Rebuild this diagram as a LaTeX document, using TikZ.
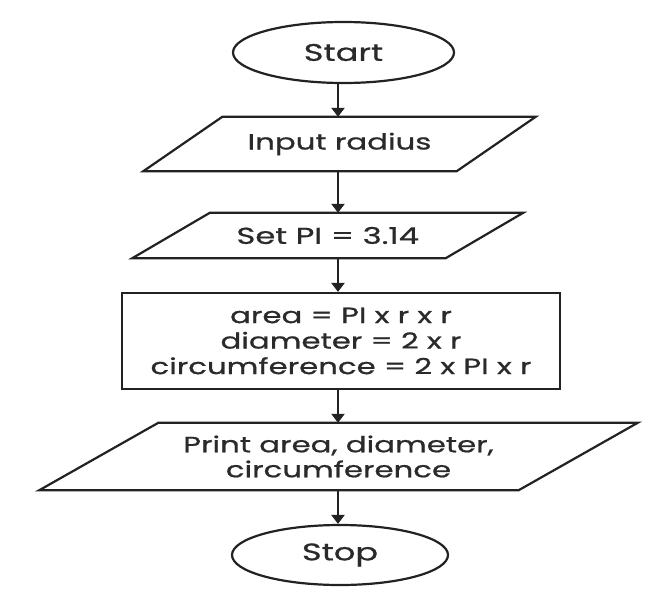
\documentclass[tikz,border=0pt]{standalone}
\usepackage{fontspec}
\setmainfont[FakeStretch=1.4,FakeBold=0.8]{Poppins}
\usetikzlibrary{arrows.meta,calc,shapes.geometric}
\definecolor{ink}{HTML}{222222}
\definecolor{txt}{HTML}{2a2a2a}
\begin{document}
\begin{tikzpicture}[x=1pt,y=-1pt,
  outline/.style={draw=ink, line width=2.2pt},
  term/.style={ellipse, outline, inner sep=0pt, text=txt, font=\fontsize{24}{26}\selectfont},
  io/.style={rectangle, inner sep=0pt, text=txt, align=center, font=\fontsize{22}{25}\selectfont},
  proc/.style={rectangle, outline, inner sep=0pt, text=txt, align=center, font=\fontsize{22}{25.5}\selectfont},
  arr/.style={draw=ink, line width=2.6pt, -{Triangle[length=9pt,width=13pt]}}]
\useasboundingbox (0,0) rectangle (669,602);
\fill[white] (0,0) rectangle (669,602);
\coordinate (ax) at (338,0);
% Start
\node[term, minimum width=221pt, minimum height=61pt] (start) at (343.5,52.5) {Start};
% Input radius
\node[io, minimum width=313pt, minimum height=54pt] (in) at (339.5,144) {Input radius};
\draw[outline] ($(in.north west)+(39.5,0)$) -- ($(in.north east)+(39.5,0)$) -- ($(in.south east)-(39.5,0)$) -- ($(in.south west)-(39.5,0)$) -- cycle;
% Set PI
\node[io, minimum width=313pt, minimum height=45pt, font=\fontsize{23}{25}\selectfont] (set) at (327.75,235.5) {Set PI = 3.14};
\draw[outline] ($(set.north west)+(38.75,0)$) -- ($(set.north east)+(38.75,0)$) -- ($(set.south east)-(38.75,0)$) -- ($(set.south west)-(38.75,0)$) -- cycle;
% Process
\node[proc, minimum width=438pt, minimum height=96pt] (calc) at (341,341) {area = PI x r x r\\diameter = 2 x r\\circumference = 2 x PI x r};
% Print
\node[io, minimum width=479pt, minimum height=67pt] (out) at (338.5,456.5) {Print area, diameter,\\circumference};
\draw[outline] ($(out.north west)+(59.5,0)$) -- ($(out.north east)+(59.5,0)$) -- ($(out.south east)-(59.5,0)$) -- ($(out.south west)-(59.5,0)$) -- cycle;
% Stop
\node[term, minimum width=216pt, minimum height=60pt] (stop) at (340,555) {Stop};
% connectors
\draw[arr] (ax |- start.south) -- (ax |- in.north);
\draw[arr] (ax |- in.south) -- (ax |- set.north);
\draw[arr] (ax |- set.south) -- (ax |- calc.north);
\draw[arr] (ax |- calc.south) -- (ax |- out.north);
\draw[arr] (ax |- out.south) -- (ax |- stop.north);
\end{tikzpicture}
\end{document}
